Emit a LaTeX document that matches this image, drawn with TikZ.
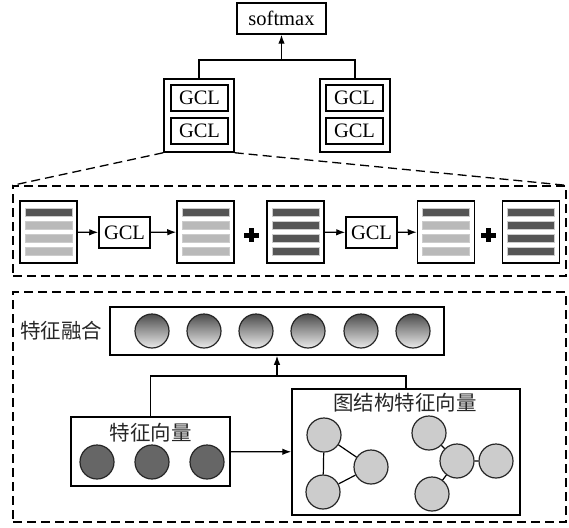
\documentclass[tikz,border=0pt]{standalone}
\usepackage{fontspec}
\setmainfont{Liberation Serif}
\newfontfamily\cjk{Noto Sans CJK SC}
\usetikzlibrary{positioning,calc,arrows.meta}

\definecolor{bardark}{RGB}{85,85,85}
\definecolor{barlight}{RGB}{185,185,185}

\tikzset{
  box/.style={draw, line width=1.5pt, inner sep=0pt, fill=white},
  gcl/.style={box, minimum width=57pt, minimum height=26pt, font=\fontsize{20.5}{24}\selectfont},
  stack/.style={box, minimum width=70pt, minimum height=73pt},
  mat/.style={box, minimum width=57pt, minimum height=62pt},
  bar/.style={draw=white!60!gray, line width=0.8pt, minimum width=47pt, minimum height=8pt, inner sep=0pt},
  zone/.style={draw, line width=1.3pt, dash pattern=on 9pt off 5pt, inner sep=0pt},
  cjklbl/.style={font=\cjk\fontsize{20.5}{24}\selectfont, inner sep=0pt, text=black!85},
  fuse/.style={circle, draw=black!85, line width=1.2pt, minimum size=34pt, inner sep=0pt,
    top color=black!70, bottom color=black!8},
  feat/.style={circle, draw=black!85, line width=1.2pt, minimum size=34pt, inner sep=0pt, fill=black!60},
  gnode/.style={circle, draw=black!85, line width=1.2pt, minimum size=34pt, inner sep=0pt, fill=black!20},
  link/.style={line width=1.2pt},
  arr/.style={link, -{Latex[length=9pt, width=6.5pt]}},
}

\begin{document}
\begin{tikzpicture}[x=1pt, y=-1pt]
        \useasboundingbox (0,0) rectangle (569,527);

        % top part
        \node[box, minimum width=89pt, minimum height=31pt, font=\fontsize{20.5}{24}\selectfont] (softmax) at (281.5,18.5) {softmax};
        \node[stack] (lstack) at (199,115.5) {};
        \node[gcl] (gcl11) at (199.5,98) {GCL};
        \node[gcl] (gcl12) at (199.5,131) {GCL};
        \node[stack] (rstack) at (355,115.5) {};
        \node[gcl] (gcl21) at (354.5,98) {GCL};
        \node[gcl] (gcl22) at (354.5,131) {GCL};

        \coordinate (topjoin) at (281.5,60);
        \draw[link] (lstack.north) |- (topjoin) -| (rstack.north);
        \draw[arr] (topjoin) -- (softmax.south);

        % middle part
        \node[zone, minimum width=553pt, minimum height=90pt] (midbox) at (289.5,231) {};
        \draw[zone] (lstack.south west) -- (midbox.north west);
        \draw[zone] (lstack.south east) -- (midbox.north east);

        \node[mat] (m1) at (48.5,232) {};
        \node[gcl, minimum width=51pt, minimum height=31pt] (gcla) at (124.5,232.5) {GCL};
        \node[mat] (m2) at (205.5,232) {};
        \node[mat] (m3) at (295.5,232) {};
        \node[gcl, minimum width=51pt, minimum height=31pt] (gclb) at (371.5,232.5) {GCL};
        \node[mat] (m4) at (446,232) {};
        \node[mat] (m5) at (531,232) {};

        \foreach \m in {m1,m2,m4} {
          \node[bar, fill=bardark] (\m b1) at ($(\m)+(0,-19.5)$) {};
          \foreach \dy [count=\i from 2] in {-6.5,6.5,19.5}
            \node[bar, fill=barlight] (\m b\i) at ($(\m)+(0,\dy)$) {};
        }
        \foreach \m in {m3,m5} {
          \foreach \dy [count=\i] in {-19.5,-6.5,6.5,19.5}
            \node[bar, fill=bardark] (\m b\i) at ($(\m)+(0,\dy)$) {};
        }

        \draw[arr] (m1) -- (gcla);
        \draw[arr] (gcla) -- (m2);
        \draw[arr] (m3) -- (gclb);
        \draw[arr] (gclb) -- (m4);

        % plus signs
        \foreach \p in {251,488} {
          \fill (\p-7.5,232.5) rectangle (\p+7.5,237.5);
          \fill (\p-2.5,228) rectangle (\p+2.5,242);
        }

        % bottom part
        \node[zone, minimum width=553pt, minimum height=230pt] (botbox) at (289.5,407) {};

        \node[box, minimum width=334pt, minimum height=48pt] (fusion) at (277,331) {};
        \node[cjklbl, left=7pt of fusion] (fuselbl) {特征融合};
        \foreach \x [count=\i] in {152,204,256,308,361,413}
          \node[fuse] (fc\i) at (\x,331) {};

        \node[box, minimum width=159pt, minimum height=69pt] (fvec) at (150.5,451.5) {};
        \node[cjklbl] (fveclbl) at (150.5,433) {特征向量};
        \foreach \x [count=\i] in {97,152,207}
          \node[feat] (fv\i) at (\x,462) {};

        \node[box, minimum width=228pt, minimum height=126pt] (gbox) at (406,452) {};
        \node[cjklbl] (gboxlbl) at (405,403) {图结构特征向量};
        \node[gnode] (ga) at (324,435) {};
        \node[gnode] (gb) at (371,467) {};
        \node[gnode] (gc) at (323,492) {};
        \node[gnode] (gd) at (429,433) {};
        \node[gnode] (ge) at (457,461) {};
        \node[gnode] (gf) at (496,461) {};
        \node[gnode] (gg) at (432,494) {};
        \draw[link] (ga) -- (gb) -- (gc) -- (ga);
        \draw[link] (gd) -- (ge) -- (gf);
        \draw[link] (ge) -- (gg);

        \coordinate (botjoin) at (277,376);
        \draw[link] (fvec.north) |- (botjoin) -| (gbox.north);
        \draw[arr] (botjoin) -- (fusion.south);
        \draw[arr] (fvec) -- (gbox);
\end{tikzpicture}
\end{document}
